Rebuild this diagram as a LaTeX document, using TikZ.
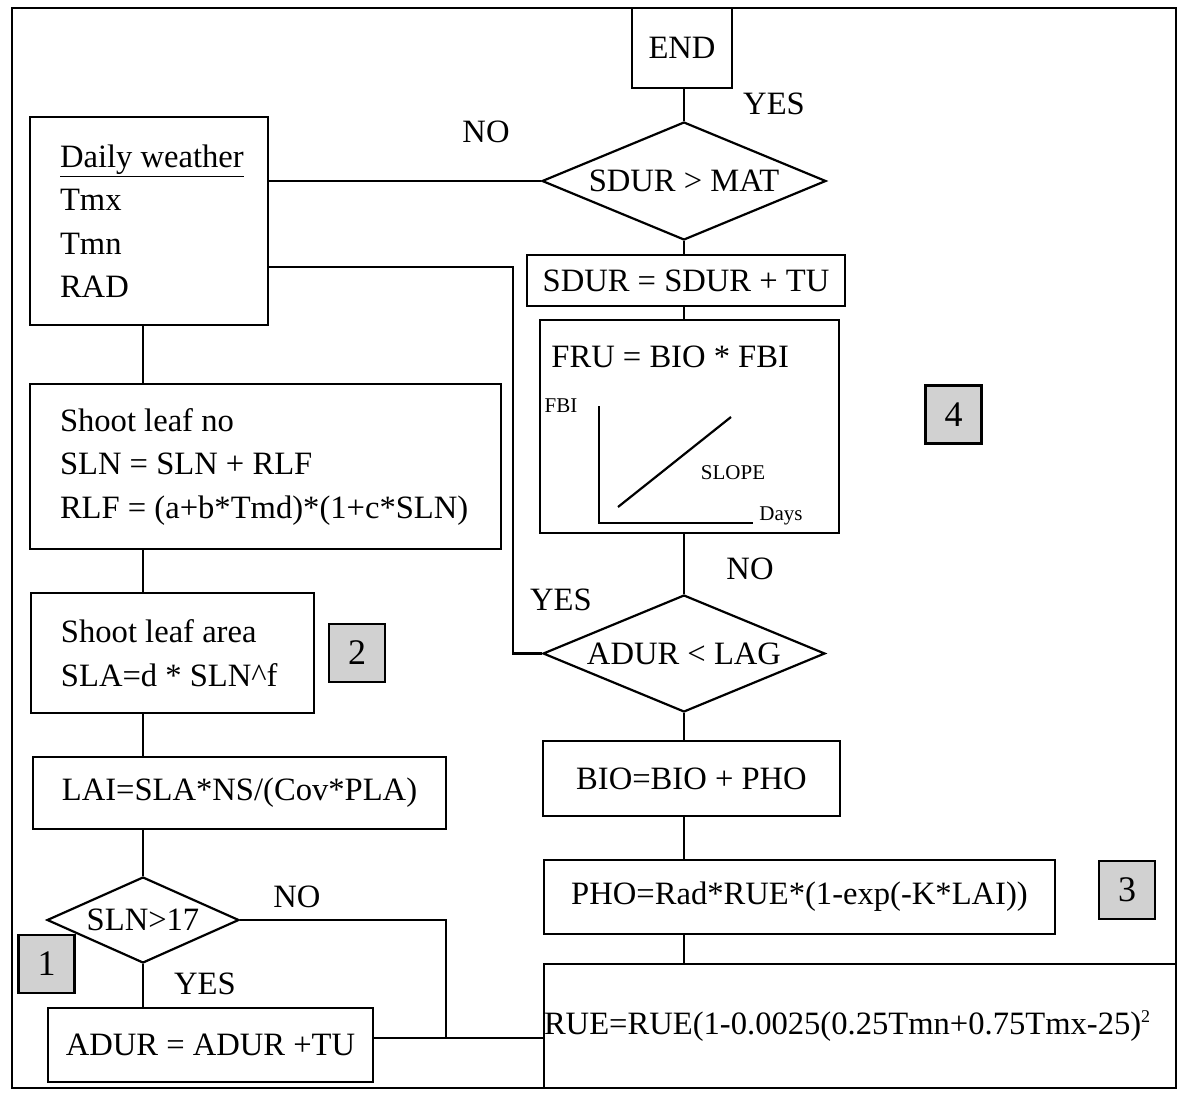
\documentclass[tikz,border=0pt]{standalone}
\usepackage{fontspec}
\setmainfont{Liberation Serif}
\usetikzlibrary{shapes.geometric}

\begin{document}
\begin{tikzpicture}[
        x=0.5pt, y=-0.5pt,
        font=\fontsize{16.3}{21.75}\selectfont,
        caja/.style={draw, line width=1.1pt, inner sep=0pt, align=center},
        izq/.style={caja, align=flush left, inner xsep=15pt},
        rombo/.style={draw, line width=1.1pt, diamond, aspect=2.4, inner sep=0pt},
        numero/.style={draw, line width=1.1pt, fill=black!18, minimum width=28pt, minimum height=29pt, inner sep=0pt, font=\fontsize{18}{18}\selectfont},
        etiqueta/.style={inner sep=0pt},
        chica/.style={inner sep=0pt, font=\fontsize{10.5}{12}\selectfont},
        linea/.style={line width=1.1pt},
        marco/.style={line width=1.4pt}
    ]
        \useasboundingbox (0,0) rectangle (1189,1097);
        \draw[marco] (12,8) rectangle (1176,1088);

        % columna izquierda
        \coordinate (tronco) at (143,0);
        \node[izq, text width=89pt, minimum height=104pt] (clima) at (149,221) {\underline{Daily weather}\\Tmx\\Tmn\\RAD};
        \node[izq, text width=205.5pt, minimum height=82.5pt] (hojas) at (265.5,466.5) {Shoot leaf no\\SLN = SLN + RLF\\\mbox{RLF = (a+b*Tmd)*(1+c*SLN)}};
        \node[izq, text width=111.5pt, minimum height=60pt] (area) at (172.5,653) {Shoot leaf area\\SLA=d * SLN\textasciicircum f};
        \node[caja, minimum width=206.5pt, minimum height=36pt] (lai) at (239.5,793) {LAI=SLA*NS/(Cov*PLA)};
        \node[rombo, minimum width=96pt, minimum height=43pt] (sln) at (143,920) {SLN>17};
        \node[caja, minimum width=162.5pt, minimum height=37pt] (adur) at (210.5,1045) {ADUR = ADUR +TU};
        \node[numero] (n1) at (46.5,964) {1};
        \node[numero] (n2) at (357,653) {2};

        % columna derecha
        \coordinate (lomo) at (684,0);
        \node[caja, minimum width=50pt, minimum height=40pt] (fin) at (682,48) {END};
        \node[rombo, minimum width=142pt, minimum height=59pt] (mat) at (684,181) {SDUR > MAT};
        \node[caja, minimum width=159pt, minimum height=25.5pt] (sdur) at (686,280.5) {SDUR = SDUR + TU};
        \node[caja, minimum width=149.5pt, minimum height=106.5pt] (fru) at (689.5,426.5) {};
        \node[rombo, minimum width=141pt, minimum height=58.5pt] (lag) at (684,653.5) {ADUR < LAG};
        \node[caja, minimum width=148.5pt, minimum height=37.5pt] (bio) at (691.5,778.5) {BIO=BIO + PHO};
        \node[caja, minimum width=255.5pt, minimum height=37pt] (pho) at (799.5,897) {PHO=Rad*RUE*(1-exp(-K*LAI))};
        \node[caja, align=flush left, text width=316pt, minimum height=62pt] (rue) at (860,1026) {\mbox{RUE=RUE(1-0.0025(0.25Tmn+0.75Tmx-25)\textsuperscript{\fontsize{9}{9}\selectfont 2}}};
        \node[numero] (n3) at (1127,890) {3};
        \node[numero] (n4) at (953.5,414.5) {4};

        % contenido de la caja FRU (curva FBI)
        \node[etiqueta, anchor=west] (frutxt) at (551,357) {FRU = BIO * FBI};
        \node[chica] (fbi) at (561,406) {FBI};
        \node[chica] (slope) at (733,473) {SLOPE};
        \node[chica] (dias) at (781,516) {Days};
        \draw[linea] (599,406) -- (599,523) -- (753,523);
        \draw[linea] (618,507) -- (731,417);

        % etiquetas
        \node[etiqueta] (si1) at (774,104) {YES};
        \node[etiqueta] (no1) at (486,132) {NO};
        \node[etiqueta] (no2) at (750,569) {NO};
        \node[etiqueta] (si2) at (561,600) {YES};
        \node[etiqueta] (no3) at (297,897) {NO};
        \node[etiqueta] (si3) at (205,984) {YES};

        % lineas
        \draw[linea] (clima.south -| tronco) -- (hojas.north -| tronco);
        \draw[linea] (hojas.south -| tronco) -- (area.north -| tronco);
        \draw[linea] (area.south -| tronco) -- (lai.north -| tronco);
        \draw[linea] (lai.south -| tronco) -- (sln.north);
        \draw[linea] (sln.south) -- (adur.north -| tronco);
        \coordinate (union) at (446,1038);
        \draw[linea] (sln.east) -| (union);
        \draw[linea] (adur.east |- union) -- (rue.west |- union);
        \draw[linea] (clima.east |- mat.west) -- (mat.west);
        \coordinate (vuelta) at (513,267);
        \draw[linea] (clima.east |- vuelta) -- (vuelta) |- (lag.west);

        \draw[linea] (fin.south -| lomo) -- (mat.north);
        \draw[linea] (mat.south) -- (sdur.north -| lomo);
        \draw[linea] (sdur.south -| lomo) -- (fru.north -| lomo);
        \draw[linea] (fru.south -| lomo) -- (lag.north);
        \draw[linea] (lag.south) -- (bio.north -| lomo);
        \draw[linea] (bio.south -| lomo) -- (pho.north -| lomo);
        \draw[linea] (pho.south -| lomo) -- (rue.north -| lomo);

    \end{tikzpicture}
\end{document}
